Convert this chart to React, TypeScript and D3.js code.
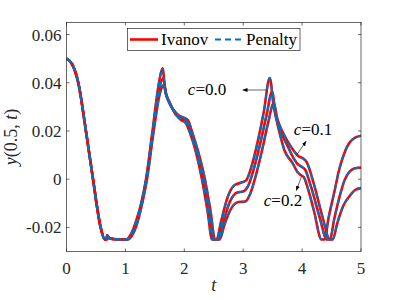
import React from 'react';
import * as d3 from 'd3';

// y(0.5, t) for three values of c
const c00: [number, number][] = [
  [0, 0.05], [0.1, 0.0475], [0.2, 0.04], [0.33, 0.02], [0.45, 0], [0.58, -0.02], [0.65, -0.025],
  [0.67, -0.025], [0.69, -0.0232], [0.72, -0.0243], [0.8, -0.0248], [0.9, -0.025], [1.02, -0.025],
  [1.1, -0.0225], [1.2, -0.016], [1.27, -0.0098], [1.35, 0], [1.46, 0.02], [1.57, 0.04], [1.63, 0.046],
  [1.68, 0.036], [1.75, 0.032], [1.85, 0.027], [1.95, 0.0245], [2.02, 0.0235], [2.1, 0.019], [2.2, 0.011],
  [2.3, 0], [2.4, -0.014], [2.47, -0.025], [2.55, -0.025], [2.62, -0.018], [2.74, -0.0072], [2.85, -0.0025],
  [2.97, -0.0014], [3.05, -0.0005], [3.15, 0.006], [3.25, 0.016], [3.35, 0.028], [3.45, 0.042],
  [3.52, 0.03], [3.6, 0.021], [3.7, 0.012], [3.84, 0.0066], [3.92, 0.003], [3.97, 0.0018], [4.03, 0.0008],
  [4.1, -0.004], [4.2, -0.013], [4.33, -0.025], [4.38, -0.025], [4.45, -0.016], [4.55, -0.005],
  [4.63, 0.004], [4.72, 0.011], [4.8, 0.015], [4.9, 0.0172], [5, 0.018],
];

const c01: [number, number][] = [
  [0, 0.05], [0.1, 0.0475], [0.2, 0.04], [0.33, 0.02], [0.45, 0], [0.58, -0.02], [0.65, -0.025],
  [0.68, -0.025], [0.7, -0.0236], [0.73, -0.0245], [0.8, -0.0248], [0.9, -0.025], [1.03, -0.025],
  [1.1, -0.023], [1.2, -0.0168], [1.28, -0.0095], [1.36, 0.0005], [1.47, 0.02], [1.58, 0.038], [1.64, 0.042],
  [1.69, 0.0355], [1.76, 0.031], [1.86, 0.027], [1.97, 0.025], [2.04, 0.024], [2.12, 0.019], [2.22, 0.011],
  [2.33, 0], [2.43, -0.014], [2.5, -0.025], [2.58, -0.025], [2.66, -0.018], [2.78, -0.009], [2.9, -0.0055],
  [3.0, -0.0051], [3.08, -0.003], [3.2, 0.006], [3.3, 0.016], [3.4, 0.027], [3.49, 0.0363],
  [3.55, 0.027], [3.65, 0.019], [3.75, 0.014], [3.84, 0.0094], [3.93, 0.0062], [3.99, 0.0052], [4.05, 0.004],
  [4.15, -0.003], [4.3, -0.016], [4.42, -0.025], [4.47, -0.025], [4.55, -0.016], [4.65, -0.006],
  [4.72, -0.0005], [4.8, 0.003], [4.9, 0.0045], [5, 0.0048],
];

const c02: [number, number][] = [
  [0, 0.05], [0.1, 0.0475], [0.2, 0.04], [0.33, 0.02], [0.45, 0], [0.58, -0.02], [0.65, -0.025],
  [0.69, -0.025], [0.71, -0.024], [0.74, -0.0246], [0.8, -0.0249], [0.9, -0.025], [1.04, -0.025],
  [1.11, -0.0235], [1.21, -0.0175], [1.29, -0.0095], [1.37, 0.0005], [1.48, 0.02], [1.59, 0.036], [1.65, 0.039],
  [1.7, 0.0345], [1.77, 0.0305], [1.88, 0.027], [1.99, 0.0255], [2.06, 0.0245], [2.14, 0.019], [2.24, 0.011],
  [2.35, 0], [2.45, -0.014], [2.52, -0.025], [2.6, -0.025], [2.68, -0.019], [2.8, -0.012], [2.92, -0.0095],
  [3.03, -0.0093], [3.12, -0.006], [3.22, 0.002], [3.32, 0.012], [3.42, 0.023], [3.52, 0.0315],
  [3.58, 0.025], [3.68, 0.019], [3.76, 0.0155], [3.84, 0.0124], [3.94, 0.0095], [4.01, 0.0087], [4.08, 0.007],
  [4.2, -0.002], [4.35, -0.016], [4.47, -0.025], [4.52, -0.025], [4.6, -0.018], [4.7, -0.011],
  [4.8, -0.0072], [4.9, -0.0045], [5, -0.0037],
];

const series = [c00, c01, c02];
const xTicks = [0, 1, 2, 3, 4, 5];
const yTicks = [-0.02, 0, 0.02, 0.04, 0.06];
const yTickLabels = ['-0.02', '0', '0.02', '0.04', '0.06'];
const legendNames = ['Ivanov', 'Penalty'];

const W = 399;
const H = 300;
const margin = { top: 22.5, right: 38, bottom: 48.5, left: 66.5 };
const RED = '#ff0000';
const BLUE = '#0072bd';
const INK = '#262626';
const serif = { fontFamily: 'Liberation Serif, Times New Roman, serif' };

export default function App() {
  const x = d3.scaleLinear().domain([0, 5]).range([margin.left, W - margin.right]);
  const y = d3.scaleLinear().domain([-0.03, 0.065]).range([H - margin.bottom, margin.top]);
  const line = d3
    .line<[number, number]>()
    .x((d) => x(d[0]))
    .y((d) => y(d[1]))
    .curve(d3.curveMonotoneX);

  const [x0, x1] = x.range();
  const [yb, yt] = y.range();
  const tick = 3;

  return (
    <svg width={W} height={H} style={{ position: 'absolute', left: 0, top: 0, background: '#fff' }}>
      <defs>
        <marker id="head" viewBox="0 0 10 10" refX="10" refY="5" markerWidth="7" markerHeight="7" orient="auto">
          <path d="M0,1 L10,5 L0,9 Z" fill="#000" />
        </marker>
        <clipPath id="plot">
          <rect x={x0} y={yt} width={x1 - x0} height={yb - yt} />
        </clipPath>
      </defs>

      {/* curves: Ivanov solid red, Penalty dashed blue on top */}
      <g clipPath="url(#plot)" fill="none">
        {series.map((s, i) => (
          <path key={'r' + i} d={line(s) || ''} stroke={RED} strokeWidth={2.6} />
        ))}
        {series.map((s, i) => (
          <path key={'b' + i} d={line(s) || ''} stroke={BLUE} strokeWidth={2} strokeDasharray="6,4" />
        ))}
      </g>

      {/* axes box and ticks */}
      <rect x={x0} y={yt} width={x1 - x0} height={yb - yt} fill="none" stroke={INK} strokeWidth={0.7} />
      <g style={serif} fontSize={17} fill={INK}>
        {xTicks.map((t) => (
          <g key={'xt' + t}>
            <line x1={x(t)} x2={x(t)} y1={yb} y2={yb - tick} stroke={INK} strokeWidth={0.7} />
            <line x1={x(t)} x2={x(t)} y1={yt} y2={yt + tick} stroke={INK} strokeWidth={0.7} />
            <text x={x(t)} y={yb + 22} textAnchor="middle">
              {t}
            </text>
          </g>
        ))}
        {yTicks.map((v, i) => (
          <g key={'yt' + v}>
            <line x1={x0} x2={x0 + tick} y1={y(v)} y2={y(v)} stroke={INK} strokeWidth={0.7} />
            <line x1={x1} x2={x1 - tick} y1={y(v)} y2={y(v)} stroke={INK} strokeWidth={0.7} />
            <text x={x0 - 5} y={y(v)} dy="0.35em" textAnchor="end">
              {yTickLabels[i]}
            </text>
          </g>
        ))}
      </g>

      {/* axis labels */}
      <text x={(x0 + x1) / 2} y={H - 9} textAnchor="middle" style={serif} fontSize={18} fill={INK} fontStyle="italic">
        t
      </text>
      <text
        transform={`translate(17,${(yb + yt) / 2}) rotate(-90)`}
        textAnchor="middle"
        style={serif}
        fontSize={18}
        fill={INK}
      >
        <tspan fontStyle="italic">y</tspan>
        <tspan>(0.5, </tspan>
        <tspan fontStyle="italic">t</tspan>
        <tspan>)</tspan>
      </text>

      {/* annotations */}
      <g style={serif} fontSize={17} fill="#000">
        <line x1={x(3.39)} y1={y(0.037)} x2={x(2.99)} y2={y(0.037)} stroke="#222" strokeWidth={0.7} markerEnd="url(#head)" />
        <text x={x(2.06)} y={y(0.037)} dy="0.32em">
          <tspan fontStyle="italic">c</tspan>=0.0
        </text>
        <line x1={x(3.89)} y1={y(0.0094)} x2={x(4.07)} y2={y(0.0158)} stroke="#222" strokeWidth={0.7} markerEnd="url(#head)" />
        <text x={x(3.86)} y={y(0.0183)}>
          <tspan fontStyle="italic">c</tspan>=0.1
        </text>
        <line x1={x(3.99)} y1={y(0.0011)} x2={x(3.9)} y2={y(-0.0048)} stroke="#222" strokeWidth={0.7} markerEnd="url(#head)" />
        <text x={x(3.35)} y={y(-0.0113)}>
          <tspan fontStyle="italic">c</tspan>=0.2
        </text>
      </g>

      {/* legend */}
      <g style={serif} fontSize={17} fill="#000">
        <rect x={127.5} y={28.5} width={172.5} height={22} fill="#fff" stroke={INK} strokeWidth={0.7} />
        <line x1={130} x2={158} y1={39.5} y2={39.5} stroke={RED} strokeWidth={2.6} />
        <text x={161} y={39.5} dy="0.35em">
          {legendNames[0]}
        </text>
        <line x1={215} x2={245} y1={39.5} y2={39.5} stroke={BLUE} strokeWidth={2} strokeDasharray="6,4" />
        <text x={246} y={39.5} dy="0.35em">
          {legendNames[1]}
        </text>
      </g>
    </svg>
  );
}
